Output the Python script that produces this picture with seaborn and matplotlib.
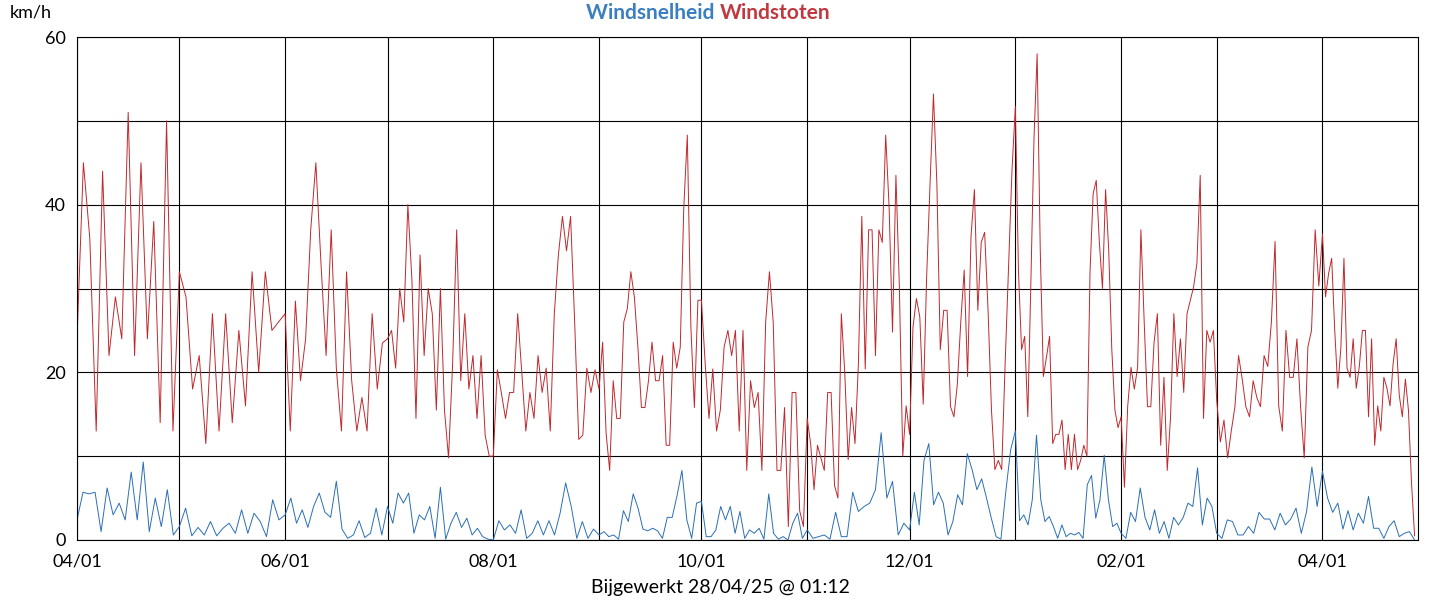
import numpy as np
import pandas as pd
import seaborn as sns
import matplotlib.pyplot as plt
import matplotlib.dates as mdates

# gust (Windstoten) values per month, km/h
gust_months = {
    '2024-04': [24, 45, 36, 13, 44, 22, 29, 24, 51, 22, 45, 24, 38, 14, 50, 13],
    '2024-05': [32, 29, 18, 22, 11.5, 27, 13, 27, 14, 25, 16, 32, 20, 32, 25, 26],
    '2024-06': [27, 13, 28.5, 19, 24, 37, 45, 33, 22, 37, 20.5, 13, 32, 19, 13, 17, 13, 27, 18, 23.5],
    '2024-07': [24, 25, 20.5, 30, 26, 40, 31, 14.5, 34, 22, 30, 27, 15.5, 30, 15.5, 9.8, 21, 37, 19, 27,
                18, 22, 14.5, 22, 12.5, 10],
    '2024-08': [10, 20.3, 17.5, 14.5, 17.6, 17.6, 27, 20, 13, 17.6, 14.5, 22, 17.6, 20.5, 13, 27, 34,
                38.6, 34.5, 38.6, 26, 12, 12.5, 20.5, 17.6, 20.3],
    '2024-09': [18, 23.6, 12.7, 8.3, 19, 14.5, 14.5, 26, 27.6, 32, 29, 23, 15.8, 15.8, 19, 23.6, 19, 19,
                22, 11.3, 11.3, 23.6, 20.5, 23, 39.7, 48.3, 25.5, 15.8, 28.6],
    '2024-10': [28.6, 21, 14.5, 20.4, 13, 15.5, 23, 25, 22, 25, 13, 25, 8.3, 19, 15.8, 17.6, 8.3, 26, 32,
                26, 8.3, 8.3, 15.8, 1.6, 17.6, 17.6, 3.5, 1.6],
    '2024-11': [14.5, 11.5, 6, 11.3, 9.8, 8.3, 17.6, 17.6, 6.5, 5, 27, 20, 9.6, 15.8, 11.5, 21, 38.6, 20.4,
                37, 37, 22, 37, 35.5, 48.3, 39.7, 24.8, 43.5, 30.3, 10, 16],
    '2024-12': [12.6, 25.4, 28.8, 26.6, 16.2, 31.4, 42.5, 53.2, 42.5, 22.7, 27.4, 27.4, 15.9, 14.7, 18.6,
                26, 32.2, 19.5, 36.2, 41.8, 27.4, 35.5, 36.7, 27.4, 15.5, 8.4, 9.5, 8.4, 21, 32.6, 44],
    '2025-01': [51.7, 32, 22.7, 24.3, 14.7, 31, 48, 58, 34.6, 19.5, 21.8, 24.3, 11.5, 12.6, 12.6, 14.3,
                8.4, 12.6, 8.4, 12.6, 8.4, 9.5, 11.3, 10, 32, 41.3, 42.9, 35.5, 30, 41.8, 34.6, 22.7,
                15.5, 13.4],
    '2025-02': [14.7, 6.3, 16, 20.6, 18, 20.6, 37, 26, 15.9, 15.9, 23.6, 27, 11.3, 19.4, 8.3, 14.7, 27,
                19.5, 24, 17.6, 27, 28.6, 30.2, 33, 43.5, 14.5, 25, 23.6, 25],
    '2025-03': [16.7, 11.7, 14.3, 9.8, 13, 15.9, 22, 19.2, 15.9, 14.7, 19, 17, 15.9, 22, 20.7, 26, 35.6,
                16, 13, 25, 19.4, 19.4, 24, 15.9, 9.8, 23, 25, 37, 30.3],
    '2025-04': [36.5, 29, 31.8, 33.6, 25, 18.1, 23, 33.6, 20.5, 19.4, 24, 18.1, 20.7, 25, 25, 14.7, 24,
                11.3, 16, 13, 19.4, 18.1, 16, 21, 24, 17.3, 14.7, 19.2, 15.5, 6.8, 0.5],
}

# mean wind speed (Windsnelheid) values per month, km/h
speed_months = {
    '2024-04': [2.4, 5.7, 5.5, 5.7, 1, 6.2, 3, 4.4, 2.4, 8.1, 2.4, 9.3, 1, 5, 1.6, 6, 0.6],
    '2024-05': [1.6, 3.8, 0.5, 1.5, 0.6, 2.2, 0.5, 1.4, 2, 0.8, 3.6, 0.8, 3.2, 2.2, 0.4, 4.8, 2.4],
    '2024-06': [3, 5, 2, 3.6, 1.5, 4, 5.6, 3.3, 2.7, 7, 1.3, 0.2, 0.6, 2.3, 0.3, 0.8, 3.8, 0.6],
    '2024-07': [4, 2, 5.6, 4.4, 5.6, 0.8, 3, 2.4, 4, 0.2, 6.3, 0.1, 2, 3.3, 1.5, 2.6, 0.6, 1.4, 0.4, 0.1],
    '2024-08': [0, 2.3, 1.2, 1.8, 0.8, 3.6, 0.2, 0.8, 2.3, 0.6, 2.3, 0.6, 3.2, 6.8, 4, 0.2, 2.2, 0.2, 1.3],
    '2024-09': [0.6, 1, 0.4, 0.6, 0.1, 3.5, 2.2, 5.5, 3.8, 1.3, 1.1, 1.4, 1.1, 0.2, 2.7, 2.7, 5.3, 8.3,
                2.4, 0.2, 4.4],
    '2024-10': [4.6, 0.4, 0.4, 1.2, 4, 2.4, 4, 0.8, 3.4, 0.2, 1.2, 0.8, 1.4, 0.1, 5.5, 0.8, 0.1, 0.4, 0,
                2, 3.2, 0.2],
    '2024-11': [1.2, 0.2, 0.4, 0.6, 0.1, 3.3, 0.4, 0.4, 5.7, 3.4, 4, 4.4, 6, 12.8, 5, 7, 0.6, 2],
    '2024-12': [1.2, 5.7, 1.8, 9.5, 11.5, 4.2, 5.7, 4.4, 0.6, 2.2, 5.4, 4.2, 10.3, 8.4, 6, 7.3, 5, 2.6,
                0.4, 0.1, 5.7, 10.7],
    '2025-01': [13, 2.3, 3, 1.8, 4.8, 12.5, 4.8, 2.2, 2.8, 1.6, 0.2, 1.8, 0.4, 0.8, 0.6, 0.9, 0.2, 6.6,
                7.7, 2.6, 4.8, 10.1, 4.8, 1.6, 2],
    '2025-02': [0.8, 0.2, 3.3, 2.2, 6.2, 2.7, 1.2, 3.6, 0.8, 2.2, 0.2, 2.7, 1.8, 2.7, 4.4, 4, 8.6, 1.8,
                5, 4],
    '2025-03': [0.8, 0.2, 2.4, 2.2, 0.6, 0.6, 1.6, 0.8, 3.3, 2.5, 2.5, 1.2, 3.2, 1.8, 2.5, 3.8, 0.8, 3.4,
                8.7, 4],
    '2025-04': [8.2, 5, 3.3, 4.4, 1.3, 3.5, 1.2, 3.2, 2, 5.2, 1.4, 1.4, 0.2, 1.6, 2.3, 0.4, 0.8, 1, 0],
}
end_date = pd.Timestamp('2025-04-28')
x_labels = ['04/01', '06/01', '08/01', '10/01', '12/01', '02/01', '04/01']


def to_series(months):
    rows = []
    for key, vals in months.items():
        start = pd.Timestamp(key + '-01')
        stop = min(start + pd.offsets.MonthBegin(1), end_date)
        if stop == end_date:
            dates = pd.date_range(start, stop, periods=len(vals))
        else:
            dates = pd.date_range(start, stop, periods=len(vals) + 1)[:-1]
        rows += list(zip(dates, vals))
    return pd.DataFrame(rows, columns=['date', 'value'])


gust = to_series(gust_months)
speed = to_series(speed_months)

plt.rcParams['font.family'] = 'Lato'
fig = plt.figure(figsize=(14.4, 6), dpi=100)
ax = fig.add_axes([77 / 1440, 60 / 600, 1341 / 1440, 503 / 600])

sns.lineplot(data=gust, x='date', y='value', ax=ax, color='#c0282d', linewidth=0.7)
sns.lineplot(data=speed, x='date', y='value', ax=ax, color='#2a6fb5', linewidth=0.7)

ax.set_xlim(pd.Timestamp('2024-04-01'), pd.Timestamp('2025-04-29'))
ax.set_ylim(0, 60)
ax.set_yticks([0, 20, 40, 60])
ax.set_yticks([10, 30, 50], minor=True)
major = pd.date_range('2024-04-01', '2025-04-01', freq='2MS')
ax.set_xticks(major)
ax.set_xticklabels(x_labels)
ax.set_xticks(pd.date_range('2024-05-01', '2025-03-01', freq='2MS'), minor=True)
ax.grid(True, which='both', color='black', linewidth=0.8)
ax.tick_params(which='both', length=0, labelsize=13, colors='black')
ax.tick_params(axis='y', pad=8)
ax.tick_params(axis='x', pad=10)
ax.set_xlabel('')
ax.set_ylabel('')
for s in ax.spines.values():
    s.set_linewidth(0.8)

fig.text(10 / 1440, 1 - 13 / 600, 'km/h', fontsize=13, va='center')
fig.text(0.5, 1 - 13 / 600, 'Windsnelheid ', color='#3a7fc1', fontsize=15, fontweight='bold',
         ha='right', va='center')
fig.text(0.5, 1 - 13 / 600, 'Windstoten', color='#c0393f', fontsize=15, fontweight='bold',
         ha='left', va='center')
fig.text(720 / 1440, 1 - 587 / 600, 'Bijgewerkt 28/04/25 @ 01:12', fontsize=14, ha='center', va='center')

fig.savefig('out.png', dpi=100)
